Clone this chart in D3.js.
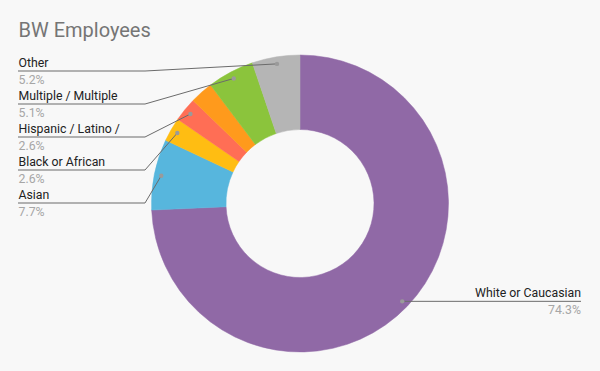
<!DOCTYPE html>
<html>
<head>
<meta charset="utf-8">
<script src="https://cdn.jsdelivr.net/npm/d3@7"></script>
<style>
  html, body { margin: 0; padding: 0; background: #f8f8f8; }
  svg { display: block; font-family: Roboto, "Noto Sans", sans-serif; }
</style>
</head>
<body>
<div id="container"></div>
<script>
const width = 600;
const height = 371;

// data, clockwise from 12 o'clock
const categories = ["White or Caucasian", "Asian", "Black or African", "Hispanic / Latino /", "Unlabeled", "Multiple / Multiple", "Other"];
const values = [74.3, 7.7, 2.6, 2.6, 2.5, 5.1, 5.2];
const sliceColors = ["#9069a6", "#57b6dd", "#ffbd12", "#ff6e55", "#ff9a1c", "#8bc43c", "#b5b5b5"];
const showLabel = [true, true, true, true, false, true, true];

const cx = 300;
const cy = 203.5;
const outerR = 148.5;
const innerR = 74;
const dotR = 141.5;

const svg = d3.select("#container")
  .append("svg")
  .attr("width", width)
  .attr("height", height);

svg.append("rect")
  .attr("width", width)
  .attr("height", height)
  .attr("fill", "#f8f8f8");

svg.append("text")
  .attr("x", 18.5)
  .attr("y", 37)
  .attr("font-size", "20px")
  .attr("fill", "#757575")
  .text("BW Employees");

const data = categories.map((c, i) => ({ name: c, value: values[i], color: sliceColors[i], show: showLabel[i] }));

const pie = d3.pie().value((d) => d.value).sort(null);
const arcs = pie(data);

const arc = d3.arc().innerRadius(innerR).outerRadius(outerR);
const dotArc = d3.arc().innerRadius(dotR).outerRadius(dotR);

const g = svg.append("g").attr("transform", `translate(${cx},${cy})`);

g.selectAll("path.slice")
  .data(arcs)
  .enter()
  .append("path")
  .attr("class", "slice")
  .attr("d", arc)
  .attr("fill", (d) => d.data.color)
  .attr("stroke", (d) => d.data.color)
  .attr("stroke-width", 0.5);

// labels: left side stacked from top, right side next to the dot
const leftArcs = arcs.filter((d) => d.data.show && (d.startAngle + d.endAngle) / 2 > Math.PI).reverse();
const rightArcs = arcs.filter((d) => d.data.show && (d.startAngle + d.endAngle) / 2 <= Math.PI);

const leftX = 18;
const elbowX = 145;
const firstLineY = 71;
const lineGap = 33;
const rightX = 581;
const labelSize = "12.3px";

const labels = svg.append("g");

leftArcs.forEach((d, i) => {
  const [px, py] = dotArc.centroid(d);
  const ly = firstLineY + i * lineGap;
  labels.append("path")
    .attr("d", `M${leftX},${ly}H${elbowX}L${cx + px},${cy + py}`)
    .attr("fill", "none")
    .attr("stroke", "#6b6b6b")
    .attr("stroke-width", 1);
  labels.append("circle")
    .attr("cx", cx + px)
    .attr("cy", cy + py)
    .attr("r", 2.2)
    .attr("fill", "#9a9a9a");
  labels.append("text")
    .attr("x", leftX + 0.5)
    .attr("y", ly - 4.5)
    .attr("font-size", labelSize)
    .attr("fill", "#222")
    .text(d.data.name);
  labels.append("text")
    .attr("x", leftX + 0.5)
    .attr("y", ly + 12.5)
    .attr("font-size", labelSize)
    .attr("fill", "#a6a6a6")
    .text(d.data.value.toFixed(1) + "%");
});

rightArcs.forEach((d) => {
  const [px, py] = dotArc.centroid(d);
  const ly = cy + py;
  labels.append("path")
    .attr("d", `M${cx + px},${ly}H${rightX}`)
    .attr("fill", "none")
    .attr("stroke", "#6b6b6b")
    .attr("stroke-width", 1);
  labels.append("circle")
    .attr("cx", cx + px)
    .attr("cy", ly)
    .attr("r", 2.2)
    .attr("fill", "#9a9a9a");
  labels.append("text")
    .attr("x", rightX)
    .attr("y", ly - 4.5)
    .attr("text-anchor", "end")
    .attr("font-size", labelSize)
    .attr("fill", "#222")
    .text(d.data.name);
  labels.append("text")
    .attr("x", rightX)
    .attr("y", ly + 12.5)
    .attr("text-anchor", "end")
    .attr("font-size", labelSize)
    .attr("fill", "#a6a6a6")
    .text(d.data.value.toFixed(1) + "%");
});
</script>
</body>
</html>
